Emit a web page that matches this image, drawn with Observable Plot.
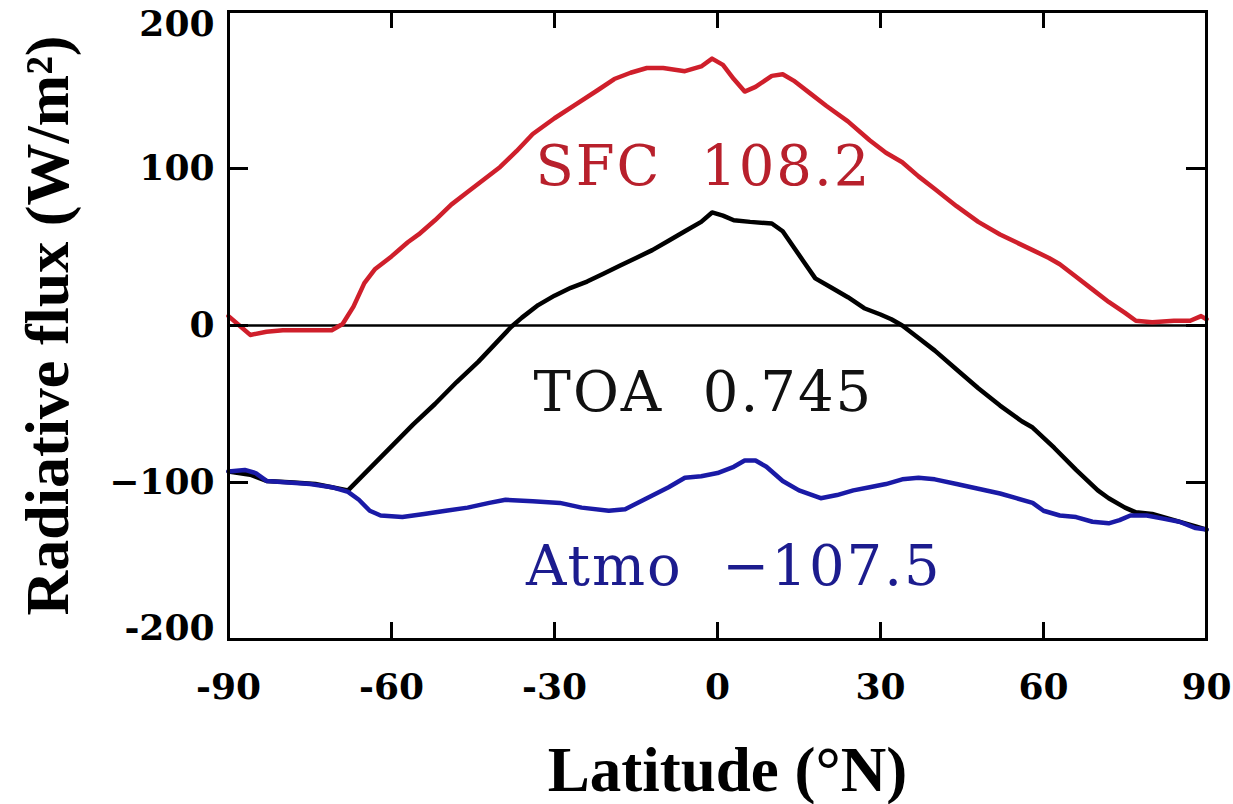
<!DOCTYPE html>
<html>
<head>
<meta charset="utf-8">
<script src="https://cdn.jsdelivr.net/npm/d3@7"></script>
<script src="https://cdn.jsdelivr.net/npm/@observablehq/plot@0.6"></script>
<style>
  html, body { margin: 0; padding: 0; background: #ffffff; }
  #chart svg { display: block; }
</style>
</head>
<body>
<div id="chart"></div>
<script>
// ---- Data ----
const sfcLat = [-90,-88,-86,-83,-80,-75,-71,-69,-67,-65,-63,-60,-57,-55,-52,-49,-46,-43,-40,-37,-34,-30,-26,-22,-19,-16,-13,-10,-6,-3,-1,1,3,5,7,10,12,14,17,20,24,28,31,34,37,40,44,48,52,55,58,61,63,66,69,72,75,77,80,84,87,89,90];
const sfcVal = [6,0,-6,-4,-3,-3,-3,1,12,27,36,44,53,58,67,77,85,93,101,111,122,132,141,150,157,161,164,164,162,165,170,166,157,149,152,159,160,156,148,140,130,118,110,104,95,87,76,66,58,53,48,43,39,31,23,15,8,3,2,3,3,6,4];

const toaLat = [-90,-86,-83,-78,-74,-71,-68,-64,-60,-56,-52,-48,-44,-41,-38,-36,-33,-30,-27,-24,-21,-18,-15,-12,-9,-6,-3,-1,1,3,6,10,12,14,16,18,21,24,27,30,32,34,37,40,44,48,52,56,58,62,66,70,72,75,77,80,84,88,90];
const toaVal = [-93,-95,-99,-100,-101,-103,-105,-91,-77,-63,-50,-36,-23,-12,-1,5,13,19,24,28,33,38,43,48,54,60,66,72,70,67,66,65,60,50,40,30,24,18,11,7,4,0,-8,-16,-28,-40,-51,-61,-65,-78,-92,-105,-110,-116,-119,-120,-124,-128,-130];

const atmoLat = [-90,-87,-85,-83,-79,-75,-71,-68,-66,-64,-62,-58,-54,-50,-46,-42,-39,-34,-29,-25,-20,-17,-13,-9,-6,-3,0,3,5,7,9,12,15,19,22,25,28,31,34,37,40,44,48,52,55,58,60,63,66,69,72,74,76,79,82,85,88,90];
const atmoVal = [-93,-92,-94,-99,-100,-101,-103,-106,-111,-118,-121,-122,-120,-118,-116,-113,-111,-112,-113,-116,-118,-117,-110,-103,-97,-96,-94,-90,-86,-86,-90,-99,-105,-110,-108,-105,-103,-101,-98,-97,-98,-101,-104,-107,-110,-113,-118,-121,-122,-125,-126,-124,-121,-121,-123,-125,-129,-130];

const annoText = ["SFC  108.2", "TOA  0.745", "Atmo  \u2212107.5"];
const annoLat = [-2.6, -2.6, 3];
const annoVal = [101, -43, -154];
const annoColor = ["#b8202c", "#111111", "#1c1c8e"];

const xTicks = [-90, -60, -30, 0, 30, 60, 90];
const xTickLabels = ["-90", "-60", "-30", "0", "30", "60", "90"];
const yTicks = [-200, -100, 0, 100, 200];
const yTickLabels = ["-200", "\u2212100", "0", "100", "200"];

const xTitle = "Latitude (\u00b0N)";
const yTitle = "Radiative flux (W/m\u00b2)";

// ---- Build tables ----
const sfc = sfcLat.map((x, i) => ({lat: x, v: sfcVal[i]}));
const toa = toaLat.map((x, i) => ({lat: x, v: toaVal[i]}));
const atmo = atmoLat.map((x, i) => ({lat: x, v: atmoVal[i]}));
const anno = annoText.map((t, i) => ({t, lat: annoLat[i], v: annoVal[i], c: annoColor[i]}));
const yFmt = d => yTickLabels[yTicks.indexOf(d)];
const xFmt = d => xTickLabels[xTicks.indexOf(d)];

// layout
const W = 1233, H = 804, mL = 228, mR = 27, mT = 11, mB = 165;
const frameW = W - mL - mR, frameH = H - mT - mB;
const xTickLen = 17, yTickLen = 20;

const tickFont = {fontFamily: "DejaVu Serif", fontWeight: "bold", fontSize: 36};
const tickStyle = {stroke: "#000", strokeWidth: 3};

const chart = Plot.plot({
  width: W,
  height: H,
  marginLeft: mL,
  marginRight: mR,
  marginTop: mT,
  marginBottom: mB,
  style: {background: "#ffffff", color: "#000000", overflow: "visible"},
  x: {domain: [-90, 90]},
  y: {domain: [-200, 200]},
  marks: [
    Plot.ruleY([0], {stroke: "#000", strokeWidth: 2.5}),
    Plot.line(sfc, {x: "lat", y: "v", stroke: "#cf1f2b", strokeWidth: 4.5, curve: "linear"}),
    Plot.line(toa, {x: "lat", y: "v", stroke: "#000000", strokeWidth: 4.5, curve: "linear"}),
    Plot.line(atmo, {x: "lat", y: "v", stroke: "#1a1aa6", strokeWidth: 4.5, curve: "linear"}),
    Plot.text(anno, {x: "lat", y: "v", text: "t", fill: "c", fontFamily: "DejaVu Serif", fontSize: 56, lineAnchor: "middle", textAnchor: "middle"}),
    // frame
    Plot.frame({stroke: "#000", strokeWidth: 3}),
    // inward ticks on all four sides (full-span rules inset down to a short stub)
    Plot.ruleX(xTicks, {x: d => d, insetTop: frameH - xTickLen, ...tickStyle}),
    Plot.ruleX(xTicks, {x: d => d, insetBottom: frameH - xTickLen, ...tickStyle}),
    Plot.ruleY(yTicks, {y: d => d, insetRight: frameW - yTickLen, ...tickStyle}),
    Plot.ruleY(yTicks, {y: d => d, insetLeft: frameW - yTickLen, ...tickStyle}),
    // tick labels
    Plot.axisX({anchor: "bottom", ticks: xTicks, tickSize: 0, tickPadding: 34, stroke: "none", tickFormat: xFmt, label: null, ...tickFont}),
    Plot.axisY({anchor: "left", ticks: [-100, 0, 100], tickSize: 0, tickPadding: 14, stroke: "none", tickFormat: yFmt, label: null, ...tickFont}),
    Plot.axisY({anchor: "left", ticks: [200], tickSize: 0, tickPadding: 14, dy: 13, stroke: "none", tickFormat: yFmt, label: null, ...tickFont}),
    Plot.axisY({anchor: "left", ticks: [-200], tickSize: 0, tickPadding: 14, dy: -11, stroke: "none", tickFormat: yFmt, label: null, ...tickFont}),
    // axis titles
    Plot.text([xTitle], {text: d => d, frameAnchor: "bottom", dx: 10, dy: 131, lineAnchor: "middle", textAnchor: "middle", fontFamily: "Liberation Serif", fontWeight: "bold", fontSize: 63, fill: "#000"}),
    Plot.text([yTitle], {text: d => d, frameAnchor: "left", dx: -180, dy: 0, rotate: -90, lineAnchor: "middle", textAnchor: "middle", fontFamily: "Liberation Serif", fontWeight: "bold", fontSize: 62, fill: "#000"})
  ]
});

// widen the annotation lettering a little, like the original's spaced type
d3.select(chart).selectAll("text").each(function() {
  if (annoText.includes(this.textContent)) this.setAttribute("letter-spacing", "2px");
});

document.getElementById("chart").appendChild(chart);
</script>
</body>
</html>
